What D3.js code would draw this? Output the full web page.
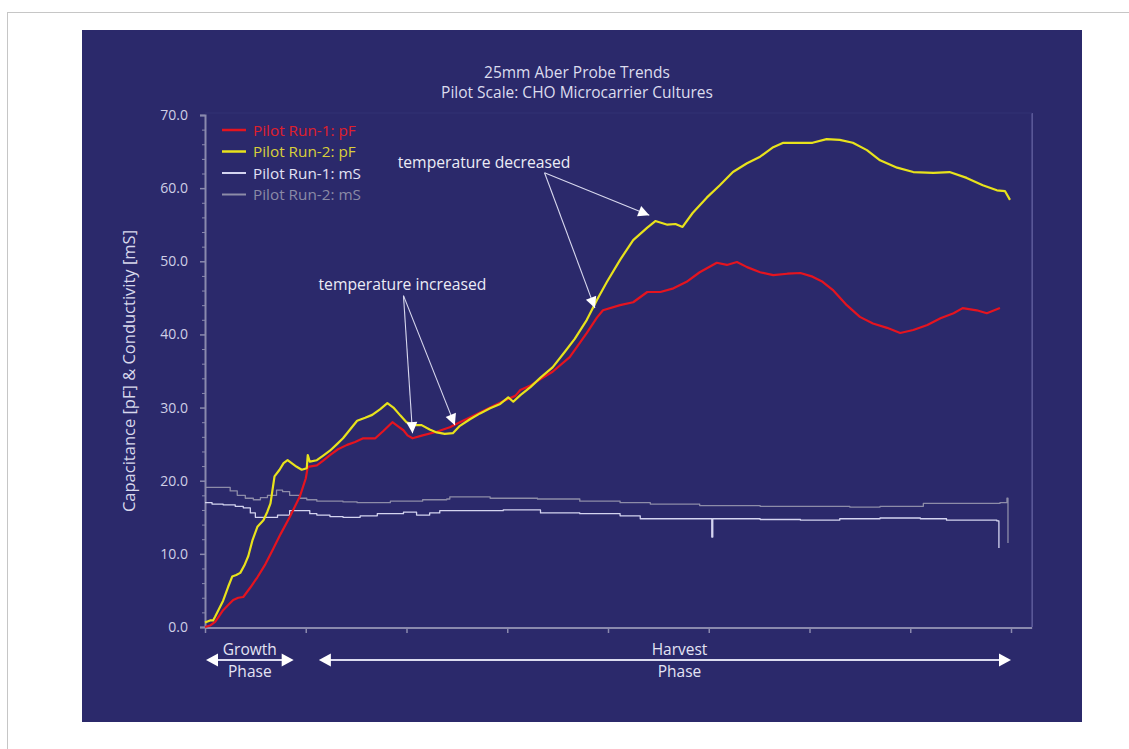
<!DOCTYPE html>
<html>
<head>
<meta charset="utf-8">
<script src="https://cdn.jsdelivr.net/npm/d3@7"></script>
<style>
  html, body { margin: 0; padding: 0; background: #ffffff; }
  svg { display: block; font-family: "Open Sans", "Noto Sans", sans-serif; }
</style>
</head>
<body>
<svg id="chart" width="1129" height="749"></svg>
<script>
// ---------- DATA (x in culture-time tick units) ----------
const title = ["25mm Aber Probe Trends", "Pilot Scale: CHO Microcarrier Cultures"];
const yLabel = "Capacitance [pF] & Conductivity [mS]";
const yTicks = [0, 10, 20, 30, 40, 50, 60, 70];
const xTicks = [0, 1, 2, 3, 4, 5, 6, 7, 8];
const seriesNames = ["Pilot Run-1: pF", "Pilot Run-2: pF", "Pilot Run-1: mS", "Pilot Run-2: mS"];

const run1pF_t = [0.00,0.05,0.10,0.14,0.18,0.23,0.28,0.33,0.38,0.45,0.52,0.60,0.67,0.75,0.84,0.94,1.00,1.02,1.11,1.17,1.24,1.32,1.41,1.49,1.57,1.69,1.77,1.86,1.92,1.97,2.01,2.06,2.16,2.30,2.43,2.53,2.68,2.83,2.98,3.08,3.13,3.23,3.33,3.45,3.62,3.79,3.89,3.95,4.12,4.25,4.39,4.52,4.65,4.78,4.91,5.08,5.18,5.28,5.38,5.51,5.64,5.78,5.91,6.03,6.13,6.23,6.37,6.50,6.63,6.77,6.90,7.03,7.17,7.30,7.43,7.52,7.66,7.76,7.89];
const run1pF_v = [0.0,0.2,0.7,1.5,2.3,3.0,3.7,4.0,4.1,5.4,6.8,8.6,10.5,12.7,15.0,17.8,20.3,21.9,22.1,22.7,23.5,24.3,24.9,25.3,25.8,25.8,26.8,28.0,27.4,26.9,26.2,25.8,26.2,26.7,27.3,28.0,29.0,30.0,31.0,31.6,32.4,33.0,33.9,34.9,36.9,40.2,42.3,43.3,44.0,44.4,45.8,45.8,46.3,47.2,48.5,49.8,49.5,49.9,49.2,48.5,48.1,48.3,48.4,47.9,47.2,46.1,44.0,42.4,41.5,40.9,40.2,40.6,41.3,42.2,42.9,43.6,43.3,42.9,43.6];

const run2pF_t = [0.00,0.05,0.08,0.10,0.14,0.18,0.23,0.27,0.31,0.35,0.39,0.43,0.47,0.52,0.58,0.62,0.65,0.69,0.74,0.78,0.82,0.86,0.91,0.96,1.01,1.02,1.04,1.11,1.17,1.24,1.31,1.37,1.44,1.51,1.59,1.66,1.74,1.81,1.87,1.94,2.00,2.08,2.15,2.23,2.30,2.38,2.46,2.53,2.63,2.73,2.83,2.93,3.01,3.06,3.13,3.23,3.33,3.45,3.57,3.67,3.79,3.89,3.99,4.12,4.25,4.39,4.47,4.59,4.67,4.74,4.84,4.98,5.11,5.24,5.38,5.51,5.64,5.74,6.03,6.17,6.30,6.43,6.57,6.70,6.87,7.03,7.23,7.39,7.56,7.72,7.86,7.94,7.99];
const run2pF_v = [0.6,0.9,0.9,1.4,2.5,3.6,5.5,6.9,7.1,7.4,8.4,9.7,11.8,13.7,14.6,15.8,16.9,20.6,21.5,22.4,22.8,22.4,21.9,21.5,21.7,23.5,22.6,22.8,23.4,24.1,25.0,25.8,27.0,28.2,28.6,29.0,29.8,30.6,30.0,28.9,28.0,27.6,27.6,27.0,26.6,26.4,26.5,27.5,28.4,29.2,29.9,30.5,31.4,30.8,31.7,32.8,34.1,35.5,37.6,39.4,42.0,44.7,47.2,50.2,52.9,54.6,55.5,55.0,55.1,54.7,56.6,58.7,60.4,62.2,63.4,64.3,65.6,66.2,66.2,66.7,66.6,66.2,65.2,63.8,62.8,62.2,62.1,62.2,61.4,60.4,59.7,59.6,58.4];

const run1mS_t = [0.00,0.07,0.18,0.30,0.38,0.45,0.50,0.65,0.72,0.84,0.97,1.04,1.11,1.24,1.37,1.54,1.71,1.84,1.97,2.10,2.23,2.33,2.63,2.96,3.33,3.72,4.12,4.32,4.91,5.02,5.03,5.04,5.51,5.91,6.30,6.70,7.10,7.36,7.86,7.88];
const run1mS_v = [17.0,16.8,16.7,16.5,16.3,15.6,15.0,15.0,15.3,15.9,15.9,15.5,15.3,15.1,15.0,15.2,15.5,15.5,15.7,15.3,15.6,15.9,15.9,16.0,15.6,15.5,15.2,14.8,14.8,14.8,12.3,14.8,14.7,14.6,14.8,14.9,14.8,14.6,14.5,10.8];

const run2mS_t = [0.00,0.18,0.25,0.32,0.40,0.48,0.55,0.62,0.71,0.77,0.84,0.94,1.01,1.11,1.37,1.51,1.84,2.16,2.40,2.43,2.83,3.30,3.72,4.12,4.42,4.91,5.51,6.40,6.70,7.13,7.89,7.96,7.97];
const run2mS_v = [19.1,19.1,18.6,18.0,17.6,17.4,17.7,18.0,18.7,18.5,18.0,17.6,17.4,17.2,17.1,17.0,17.2,17.4,17.5,17.8,17.6,17.5,17.2,17.0,16.8,16.6,16.5,16.4,16.5,16.9,17.0,17.6,11.5];

// annotations: label position, arrow origin, arrow targets (data units)
const annLabels = ["temperature decreased", "temperature increased"];
const annLabelPos = [[2.77, 62.8], [1.96, 46.1]];
const annOrigins = [[3.37, 62.1], [1.97, 45.3]];
const annTargets = [[[4.41, 56.3], [3.87, 43.6]], [[2.06, 26.5], [2.48, 27.6]]];

// phases: [start, end] in x units and label
const phaseNames = [["Growth", "Phase"], ["Harvest", "Phase"]];
const phaseSpans = [[0.01, 0.88], [1.13, 8.0]];

// ---------- DRAWING ----------
const svg = d3.select("#chart");
const colors = ["#e5141f", "#e8e21c", "#d4d4f0", "#8d8ca8"];
const textColors = ["#e01f2b", "#d9cf3a", "#e2e2f4", "#8a8aa6"];
const widths = [2.2, 2.2, 1.3, 1.3];

// page frame
svg.append("line").attr("x1", 7).attr("x2", 1129).attr("y1", 12.5).attr("y2", 12.5).attr("stroke", "#c6c6c6");
svg.append("line").attr("x1", 7.5).attr("x2", 7.5).attr("y1", 12).attr("y2", 749).attr("stroke", "#c6c6c6");
// panel
svg.append("rect").attr("x", 82).attr("y", 30).attr("width", 1000).attr("height", 692).attr("fill", "#2b296b");

const x = d3.scaleLinear().domain([0, 8]).range([205, 1011]);
const y = d3.scaleLinear().domain([0, 70]).range([627, 115]);
const xEnd = x(8.21);

// title
svg.append("g").selectAll("text").data(title).join("text")
  .attr("x", 577).attr("y", (d, i) => 78 + i * 20)
  .attr("text-anchor", "middle").attr("fill", "#dcdcee").attr("font-size", 15.5).text(d => d);

// plot frame right & top (faint)
svg.append("line").attr("x1", xEnd).attr("x2", xEnd).attr("y1", y(70) - 2).attr("y2", y(0))
  .attr("stroke", "#5e5c9c").attr("stroke-width", 1.5);
svg.append("line").attr("x1", x(0)).attr("x2", xEnd).attr("y1", y(70) - 2).attr("y2", y(70) - 2)
  .attr("stroke", "#333275").attr("stroke-width", 1);

// y axis
const yAxis = d3.axisLeft(y).tickValues(yTicks).tickFormat(d3.format(".1f")).tickSize(5).tickPadding(12);
const gy = svg.append("g").attr("transform", `translate(${x(0)},0)`).call(yAxis);
gy.select(".domain").attr("stroke", "#8a89ad").attr("stroke-width", 2);
gy.selectAll(".tick line").attr("stroke", "#8a89ad").attr("stroke-width", 1.5);
gy.selectAll(".tick text").attr("fill", "#cfcfe6").attr("font-size", 14).attr("font-family", "Open Sans");
// minor ticks
const yMinor = d3.axisLeft(y).tickValues(d3.range(0, 70.1, 2).filter(v => v % 10 !== 0)).tickSize(3).tickFormat("");
const gym = svg.append("g").attr("transform", `translate(${x(0)},0)`).call(yMinor);
gym.select(".domain").remove();
gym.selectAll(".tick line").attr("stroke", "#8a89ad");

// x axis
const xAxis = d3.axisBottom(x).tickValues(xTicks).tickFormat("").tickSize(5).tickSizeOuter(0);
const gx = svg.append("g").attr("transform", `translate(0,${y(0) + 1})`).call(xAxis);
gx.select(".domain").attr("d", `M${x(0)},0H${xEnd}`).attr("stroke", "#8a89ad").attr("stroke-width", 2);
gx.selectAll(".tick line").attr("stroke", "#8a89ad").attr("stroke-width", 1.5);

// y label
svg.append("text").attr("transform", `translate(135,${y(35)}) rotate(-90)`)
  .attr("text-anchor", "middle").attr("fill", "#d8d8ec").attr("font-size", 16.5).text(yLabel);

// draw order: mS lines below, then red, then yellow
const order = [[run2mS_t, run2mS_v, 3], [run1mS_t, run1mS_v, 2], [run1pF_t, run1pF_v, 0], [run2pF_t, run2pF_v, 1]];
order.forEach(([ts, vs, k]) => {
  const pts = ts.map((t, i) => [t, vs[i]]);
  const line = d3.line().x(d => x(d[0])).y(d => y(d[1]))
    .curve(k >= 2 ? d3.curveStepAfter : d3.curveLinear);
  svg.append("path").datum(pts).attr("d", line).attr("fill", "none")
    .attr("stroke", colors[k]).attr("stroke-width", widths[k]).attr("stroke-linejoin", "round");
});

// legend
const lg = svg.append("g");
seriesNames.forEach((name, i) => {
  const yy = 130 + i * 21.5;
  lg.append("line").attr("x1", 222).attr("x2", 246).attr("y1", yy).attr("y2", yy)
    .attr("stroke", colors[i]).attr("stroke-width", i < 2 ? 2.5 : 2);
  lg.append("text").attr("x", 253).attr("y", yy + 5.5).attr("fill", textColors[i])
    .attr("font-size", 15.3).text(name);
});

// arrowhead helper
function arrowHead(g, x1, y1, x2, y2, len, half, color) {
  const a = Math.atan2(y2 - y1, x2 - x1);
  const bx = x2 - len * Math.cos(a), by = y2 - len * Math.sin(a);
  const px = -Math.sin(a) * half, py = Math.cos(a) * half;
  g.append("path").attr("d", `M${x2},${y2}L${bx + px},${by + py}L${bx - px},${by - py}Z`).attr("fill", color);
}

// annotations
annLabels.forEach((lab, i) => {
  const g = svg.append("g");
  g.append("text").attr("x", x(annLabelPos[i][0])).attr("y", y(annLabelPos[i][1]))
    .attr("text-anchor", "middle").attr("fill", "#ececf6").attr("font-size", 15.7).text(lab);
  const ox = x(annOrigins[i][0]), oy = y(annOrigins[i][1]);
  annTargets[i].forEach(tg => {
    const tx = x(tg[0]), ty = y(tg[1]);
    g.append("line").attr("x1", ox).attr("y1", oy).attr("x2", tx).attr("y2", ty)
      .attr("stroke", "#d8d8ee").attr("stroke-width", 1.1);
    arrowHead(g, ox, oy, tx, ty, 11, 5.5, "#ffffff");
  });
});

// phase arrows
phaseSpans.forEach((sp, i) => {
  const g = svg.append("g");
  const x1 = x(sp[0]), x2 = x(sp[1]), yy = 660;
  g.append("line").attr("x1", x1 + 6).attr("x2", x2 - 6).attr("y1", yy).attr("y2", yy)
    .attr("stroke", "#dcdcf0").attr("stroke-width", 2);
  arrowHead(g, x2, yy, x1, yy, 12, 6.5, "#ffffff");
  arrowHead(g, x1, yy, x2, yy, 12, 6.5, "#ffffff");
  const cx = i === 0 ? (x1 + x2) / 2 : x(4.71);
  g.append("text").attr("x", cx).attr("y", 655).attr("text-anchor", "middle")
    .attr("fill", "#e4e4f4").attr("font-size", 15.5).text(phaseNames[i][0]);
  g.append("text").attr("x", cx).attr("y", 677).attr("text-anchor", "middle")
    .attr("fill", "#e4e4f4").attr("font-size", 15.5).text(phaseNames[i][1]);
});
</script>
</body>
</html>
